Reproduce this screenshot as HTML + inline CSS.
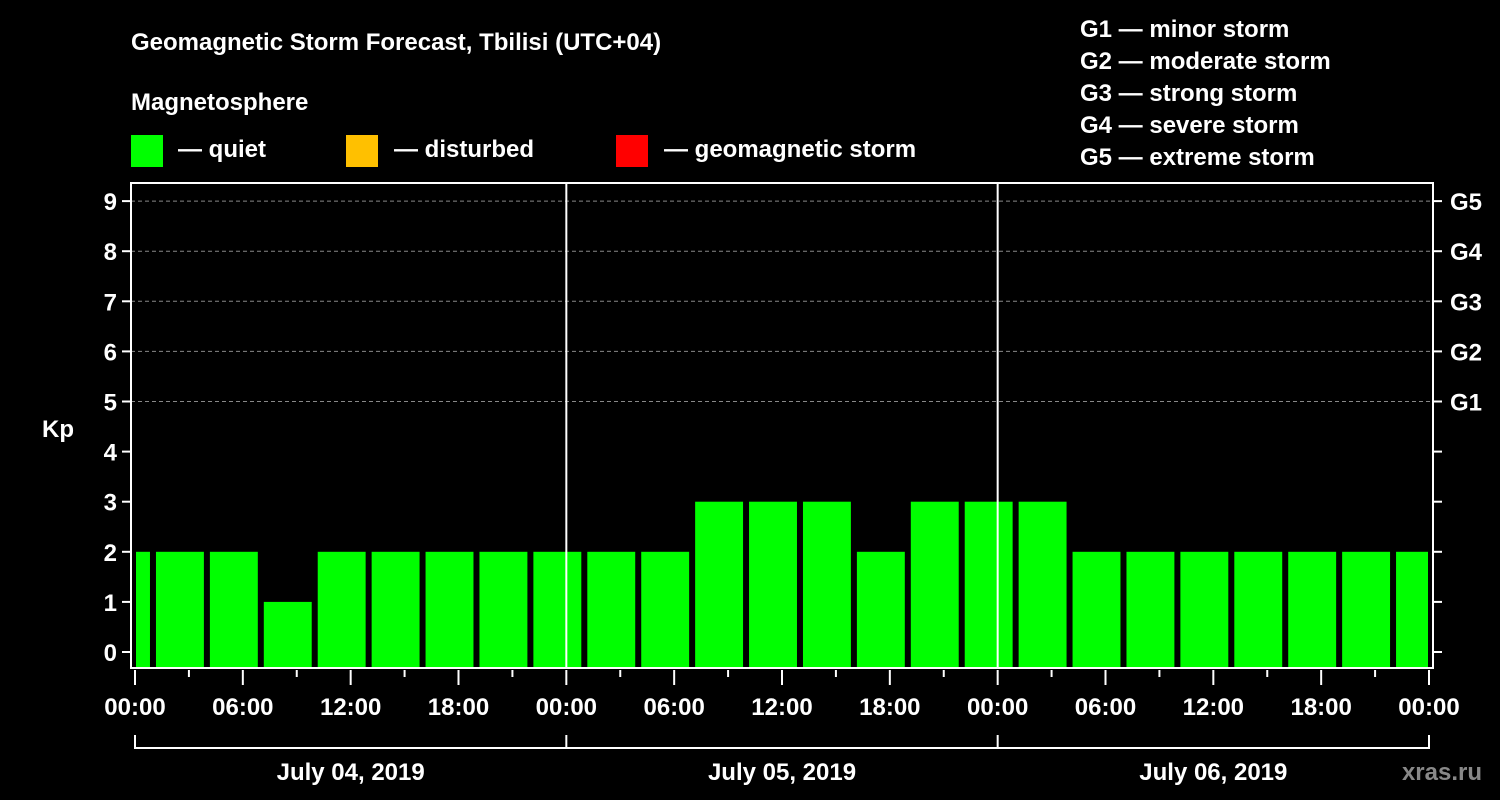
<!DOCTYPE html>
<html><head><meta charset="utf-8"><style>
html,body{margin:0;padding:0;background:#000;}
svg{display:block;font-family:"Liberation Sans",sans-serif;font-weight:bold;}
</style></head><body>
<svg id="chart" width="1500" height="800" viewBox="0 0 1500 800">
<rect width="1500" height="800" fill="#000"/>
<text x="131" y="50" fill="#fff" font-size="24">Geomagnetic Storm Forecast, Tbilisi (UTC+04)</text>
<text x="131" y="110" fill="#fff" font-size="24">Magnetosphere</text>
<g><rect x="131" y="135" width="32" height="32" fill="#00ff00"/><text x="178" y="157" fill="#fff" font-size="24">— quiet</text></g>
<g><rect x="346" y="135" width="32" height="32" fill="#ffc000"/><text x="394" y="157" fill="#fff" font-size="24">— disturbed</text></g>
<g><rect x="616" y="135" width="32" height="32" fill="#ff0000"/><text x="664" y="157" fill="#fff" font-size="24">— geomagnetic storm</text></g>
<g fill="#fff" font-size="24">
<text x="1080" y="37">G1 — minor storm</text>
<text x="1080" y="69">G2 — moderate storm</text>
<text x="1080" y="101">G3 — strong storm</text>
<text x="1080" y="133">G4 — severe storm</text>
<text x="1080" y="165">G5 — extreme storm</text>
</g>
<text x="42" y="437" fill="#fff" font-size="24">Kp</text>
<g id="grid"></g>
<g id="bars"></g>
<g id="axes"></g>
<text x="1482" y="780" fill="#888" font-size="24" text-anchor="end">xras.ru</text>
</svg>
<script>
const kpValues=[2,2,2,1,2,2,2,2,2,2,2,3,3,3,2,3,3,3,2,2,2,2,2,2,2];
const barStartHours=[-2,1,4,7,10,13,16,19,22,25,28,31,34,37,40,43,46,49,52,55,58,61,64,67,70];
const yTicks=[0,1,2,3,4,5,6,7,8,9];
const gLabels=["G1","G2","G3","G4","G5"];
const xTickLabels=["00:00","06:00","12:00","18:00","00:00","06:00","12:00","18:00","00:00","06:00","12:00","18:00","00:00"];
const dateLabels=["July 04, 2019","July 05, 2019","July 06, 2019"];
const NS="http://www.w3.org/2000/svg";
const L=131,R=1433,T=183,B=668,X0=135,X1=1429,H=72;
const x=h=>X0+(X1-X0)*h/H;
const y=k=>652-50.1*k;
function mk(tag,attrs,parent,txt){const e=document.createElementNS(NS,tag);for(const k in attrs)e.setAttribute(k,attrs[k]);if(txt!==undefined)e.textContent=txt;parent.appendChild(e);return e;}
const grid=document.getElementById('grid'),bars=document.getElementById('bars'),axes=document.getElementById('axes');
for(let k=5;k<=9;k++){const g=mk('line',{x1:L,x2:R,y1:y(k),y2:y(k),stroke:'#888','stroke-dasharray':'4,3','stroke-width':1},grid);

}
kpValues.forEach((v,i)=>{
let a=x(barStartHours[i])+3,b=x(barStartHours[i]+3)-3;a=Math.max(a,L+5);b=Math.min(b,R-5);
const c=v>=5?'#ff0000':(v>=4?'#ffc000':'#00ff00');
const r=mk('rect',{x:a,y:y(v),width:b-a,height:B-y(v),fill:c},bars);

});
[24,48].forEach(h=>{const l=mk('line',{x1:x(h),x2:x(h),y1:T,y2:B,stroke:'#fff','stroke-width':2},axes);

});
const fr=mk('rect',{x:L,y:T,width:R-L,height:B-T,fill:'none',stroke:'#fff','stroke-width':2},axes);


yTicks.forEach(k=>{
mk('line',{x1:122,x2:L,y1:y(k),y2:y(k),stroke:'#fff','stroke-width':2},axes);
mk('line',{x1:R,x2:1442,y1:y(k),y2:y(k),stroke:'#fff','stroke-width':2},axes);
const t=mk('text',{x:117,y:y(k)+9,fill:'#fff','font-size':24,'text-anchor':'end'},axes,String(k));

});
gLabels.forEach((g,i)=>{const t=mk('text',{x:1450,y:y(5+i)+9,fill:'#fff','font-size':24},axes,g);

});
for(let h=0;h<=72;h+=3){const major=h%6===0;mk('line',{x1:x(h),x2:x(h),y1:B+2,y2:major?685:677,stroke:'#fff','stroke-width':2},axes);}
xTickLabels.forEach((s,i)=>{const t=mk('text',{x:x(i*6),y:715,fill:'#fff','font-size':24,'text-anchor':'middle'},axes,s);

});
mk('line',{x1:x(0),x2:x(72),y1:748,y2:748,stroke:'#fff','stroke-width':2},axes);
for(let d=0;d<=3;d++)mk('line',{x1:x(d*24),x2:x(d*24),y1:735,y2:749,stroke:'#fff','stroke-width':2},axes);
dateLabels.forEach((s,i)=>{const t=mk('text',{x:x(i*24+12),y:780,fill:'#fff','font-size':24,'text-anchor':'middle'},axes,s);

});
</script>
</body></html>
